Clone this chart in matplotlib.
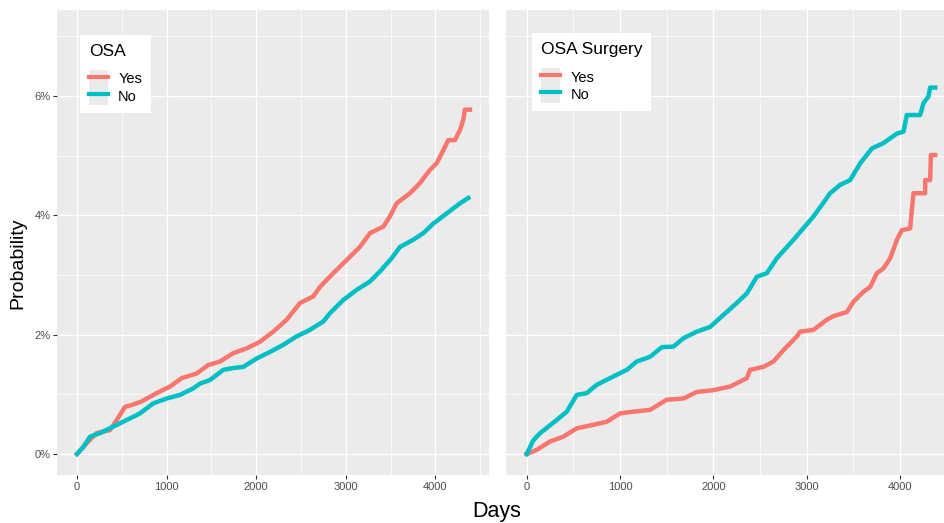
import matplotlib.pyplot as plt
from matplotlib.lines import Line2D
from matplotlib.patches import Patch
from matplotlib.legend_handler import HandlerTuple
from matplotlib.ticker import FixedLocator

plt.rcParams['font.family'] = ['Liberation Sans', 'DejaVu Sans']

# left panel: OSA yes / no  (days, cumulative probability in %)
osa_yes_days = [0, 108, 218, 368, 443, 536, 610, 720, 889, 1038, 1168, 1336, 1465, 1596,
                1744, 1894, 2042, 2191, 2340, 2489, 2637, 2712, 2861, 3010, 3158, 3270,
                3419, 3493, 3568, 3717, 3828, 3940, 4014, 4089, 4144, 4219, 4275, 4312,
                4330, 4386]
osa_yes_prob = [0, 0.18, 0.35, 0.40, 0.57, 0.79, 0.82, 0.88, 1.02, 1.13, 1.27, 1.35, 1.49, 1.55,
                1.69, 1.77, 1.88, 2.05, 2.25, 2.53, 2.64, 2.80, 3.03, 3.25, 3.47, 3.70,
                3.81, 3.98, 4.20, 4.37, 4.54, 4.76, 4.87, 5.09, 5.26, 5.26, 5.43, 5.60,
                5.77, 5.77]

osa_no_days = [0, 71, 145, 257, 405, 555, 703, 852, 1001, 1150, 1298, 1373, 1484, 1633,
               1744, 1856, 2005, 2154, 2303, 2451, 2600, 2749, 2824, 2972, 3121, 3270,
               3382, 3512, 3605, 3753, 3865, 3977, 4126, 4275, 4368]
osa_no_prob = [0, 0.12, 0.29, 0.35, 0.46, 0.57, 0.68, 0.85, 0.93, 0.99, 1.10, 1.18, 1.24, 1.41,
               1.44, 1.46, 1.60, 1.71, 1.83, 1.97, 2.08, 2.22, 2.36, 2.58, 2.75, 2.89,
               3.06, 3.28, 3.47, 3.59, 3.70, 3.86, 4.03, 4.20, 4.29]

# right panel: OSA surgery yes / no
surg_yes_days = [0, 107, 250, 392, 536, 714, 857, 1000, 1143, 1322, 1500, 1679, 1822, 2000,
                 2179, 2358, 2393, 2536, 2643, 2750, 2894, 2929, 3072, 3215, 3286, 3430,
                 3500, 3608, 3680, 3751, 3822, 3894, 3966, 4019, 4108, 4126, 4144, 4269,
                 4269, 4322, 4330, 4376]
surg_yes_prob = [0, 0.07, 0.21, 0.29, 0.43, 0.49, 0.54, 0.68, 0.71, 0.74, 0.91, 0.93, 1.04, 1.07,
                 1.13, 1.27, 1.41, 1.46, 1.55, 1.74, 1.97, 2.05, 2.08, 2.25, 2.31, 2.38,
                 2.55, 2.72, 2.80, 3.03, 3.11, 3.28, 3.59, 3.75, 3.78, 4.09, 4.37, 4.37,
                 4.59, 4.59, 5.01, 5.01]

surg_no_days = [0, 71, 143, 232, 321, 429, 536, 643, 750, 929, 1072, 1179, 1322, 1447,
                1572, 1679, 1822, 1965, 2107, 2250, 2358, 2465, 2572, 2679, 2858, 3072,
                3251, 3358, 3465, 3572, 3698, 3822, 3966, 4036, 4072, 4215, 4251, 4304,
                4322, 4376]
surg_no_prob = [0, 0.23, 0.35, 0.46, 0.57, 0.71, 0.99, 1.02, 1.16, 1.30, 1.41, 1.55, 1.63, 1.79,
                1.80, 1.94, 2.05, 2.13, 2.33, 2.53, 2.69, 2.97, 3.03, 3.28, 3.59, 3.98,
                4.37, 4.51, 4.59, 4.87, 5.12, 5.21, 5.37, 5.40, 5.68, 5.68, 5.88, 5.99,
                6.14, 6.14]

x_ticks = [0, 1000, 2000, 3000, 4000]
y_ticks = [0, 2, 4, 6]
y_labels = ['0%', '2%', '4%', '6%']

RED = '#F8766D'
CYAN = '#00BFC4'
W, H = 944, 523

fig = plt.figure(figsize=(W / 100, H / 100), dpi=100)


def px_axes(x0, x1, y0, y1):
    return fig.add_axes([x0 / W, (H - y1) / H, (x1 - x0) / W, (y1 - y0) / H])


def style(ax, show_y):
    ax.set_facecolor('#EBEBEB')
    for s in ax.spines.values():
        s.set_visible(False)
    ax.set_xlim(-219, 4599)
    ax.set_ylim(-0.352, 7.44)
    ax.xaxis.set_major_locator(FixedLocator(x_ticks))
    ax.xaxis.set_minor_locator(FixedLocator([-500, 500, 1500, 2500, 3500, 4500]))
    ax.yaxis.set_major_locator(FixedLocator(y_ticks))
    ax.yaxis.set_minor_locator(FixedLocator([1, 3, 5, 7]))
    ax.grid(which='major', color='white', lw=1.0)
    ax.grid(which='minor', color='white', lw=0.5)
    ax.set_axisbelow(True)
    ax.tick_params(which='major', length=3, color='#333333', labelcolor='#4D4D4D',
                   labelsize=8, pad=2)
    ax.tick_params(which='minor', length=0)
    if show_y:
        ax.set_yticklabels(y_labels)
    else:
        ax.tick_params(axis='y', which='both', left=False, labelleft=False)


def legend(ax, title, anchor):
    handles = [(Patch(facecolor='#EBEBEB', edgecolor='none'), Line2D([], [], color=RED, lw=3)),
               (Patch(facecolor='#EBEBEB', edgecolor='none'), Line2D([], [], color=CYAN, lw=3))]
    leg = ax.legend(handles, ['Yes', 'No'], title=title, loc='upper left',
                    bbox_to_anchor=anchor, borderaxespad=0, frameon=True, fancybox=False,
                    edgecolor='none', facecolor='white', framealpha=1, fontsize=10.5,
                    title_fontsize=12.5, alignment='left', handlelength=1.3,
                    handleheight=1.45, handletextpad=0.7, labelspacing=0.0,
                    borderpad=0.6, handler_map={tuple: HandlerTuple(ndivide=1)})
    leg._legend_box.sep = 8
    return leg


ax1 = px_axes(57.4, 489, 10, 475)
style(ax1, True)
ax1.plot(osa_yes_days, osa_yes_prob, color=RED, lw=3.2)
ax1.plot(osa_no_days, osa_no_prob, color=CYAN, lw=3.2)
legend(ax1, 'OSA', (0.053, 0.946))

ax2 = px_axes(506.3, 956, 10, 475)
style(ax2, False)
ax2.plot(surg_yes_days, surg_yes_prob, color=RED, lw=3.2)
ax2.plot(surg_no_days, surg_no_prob, color=CYAN, lw=3.2)
legend(ax2, 'OSA Surgery', (0.058, 0.95))

fig.text(18 / W, 1 - 263 / H, 'Probability', rotation=90, ha='center', va='center',
         fontsize=14)
fig.text(497 / W, 1 - 517 / H, 'Days', ha='center', va='baseline', fontsize=15.5)

fig.savefig('out.png', dpi=100)
